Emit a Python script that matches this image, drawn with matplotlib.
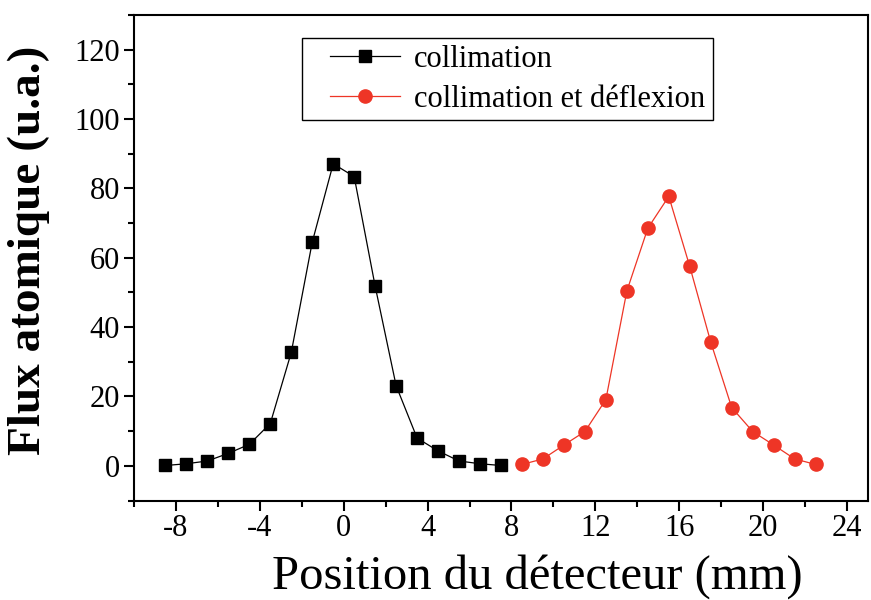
import numpy as np
import matplotlib.pyplot as plt
from matplotlib.patches import Rectangle
from matplotlib.ticker import MultipleLocator

plt.rcParams['font.family'] = ['Liberation Serif', 'DejaVu Serif']
plt.rcParams['axes.unicode_minus'] = False

# ======================== data ========================
x_coll = [-8.5, -7.5, -6.5, -5.5, -4.5, -3.5, -2.5, -1.5, -0.5, 0.5,
          1.5, 2.5, 3.5, 4.5, 5.5, 6.5, 7.5]
y_coll = [0.1, 0.6, 1.4, 3.6, 6.2, 12.2, 32.7, 64.5, 87.1, 83.4,
          51.8, 23.1, 8.0, 4.3, 1.4, 0.6, 0.1]

x_defl = [8.5, 9.5, 10.5, 11.5, 12.5, 13.5, 14.5, 15.5, 16.5, 17.5,
          18.5, 19.5, 20.5, 21.5, 22.5]
y_defl = [0.4, 2.0, 6.0, 9.9, 19.1, 50.4, 68.5, 77.7, 57.5, 35.7,
          16.8, 9.9, 6.0, 2.0, 0.4]

xticks = np.arange(-8, 25, 4)
yticks = np.arange(0, 121, 20)

red = '#ee3526'

# ================================ plot ===================================
fig = plt.figure(figsize=(8.71, 6.0), dpi=100)
ax = fig.add_axes([0.1538, 0.1658, 0.8428, 0.8092])

ax.plot(x_coll, y_coll, color='k', lw=0.9, marker='s', ms=8.5,
        mec='k', mfc='k', label='collimation')
ax.plot(x_defl, y_defl, color=red, lw=0.9, marker='o', ms=9.5,
        mec=red, mfc=red, label='collimation et déflexion')

ax.set_xlim(-10, 25)
ax.set_ylim(-10, 130)
ax.set_xticks(xticks)
ax.set_yticks(yticks)
ax.xaxis.set_minor_locator(MultipleLocator(2))
ax.yaxis.set_minor_locator(MultipleLocator(10))

for s in ax.spines.values():
    s.set_linewidth(1.5)
ax.tick_params(which='both', direction='out', top=False, right=False,
               width=1.5, labelsize=22)
ax.tick_params(which='major', length=7, pad=3)
ax.tick_params(which='minor', length=4)

ax.set_xlabel('Position du détecteur (mm)', fontsize=35)
ax.xaxis.set_label_coords(0.55, -0.11, transform=ax.transAxes)
ax.set_ylabel('Flux atomique (u.a.)', fontsize=34, fontweight='bold')
ax.yaxis.set_label_coords(-0.115, 0.515, transform=ax.transAxes)

# legend box drawn separately (Origin style: wide left margin)
ax.add_patch(Rectangle((0.229, 0.784), 0.56, 0.169, transform=ax.transAxes,
                       fill=True, fc='white', ec='k', lw=1.0, zorder=4))
leg = ax.legend(loc='upper left', bbox_to_anchor=(0.267, 0.938), borderaxespad=0,
                fontsize=22, numpoints=1, handlelength=2.3, handletextpad=0.45,
                frameon=False, borderpad=0, labelspacing=0.35)
leg.set_zorder(5)

fig.savefig('out.png', dpi=100)
